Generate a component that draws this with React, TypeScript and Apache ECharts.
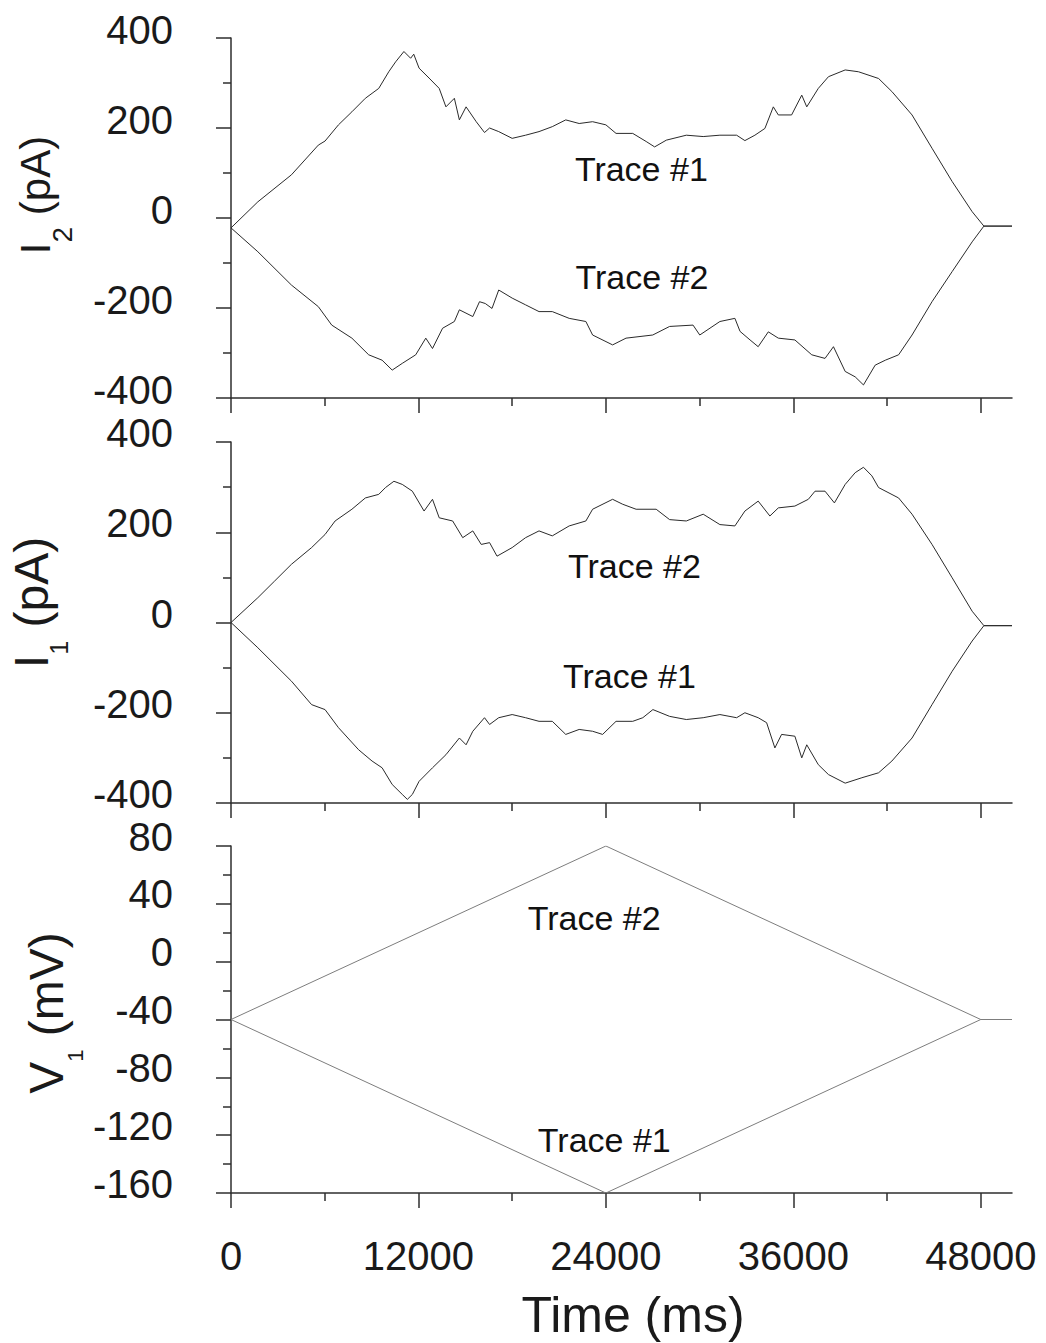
import React, { useEffect, useRef } from "react";
import * as echarts from "echarts";

// ---------- axis data ----------
const xMin = 0;
const xMax = 50000;
const xMajorTicks = [0, 12000, 24000, 36000, 48000];
const xMinorTicks = [6000, 18000, 30000, 42000];

// ---------- I2 panel (top) ----------
const i2Trace1Time = [0, 1720, 3870, 5590, 6020, 6880, 7740, 8600, 9460, 10100, 10540, 11070, 11500, 11700, 12040, 12680, 13330, 13760, 14300, 14620, 15050, 15700, 16230, 16555, 17140, 18000, 18860, 19720, 20570, 21430, 22290, 23150, 24000, 24650, 25720, 26580, 27120, 27870, 29150, 30230, 31300, 32370, 32900, 33540, 34180, 34720, 35040, 35890, 36540, 36860, 37600, 38250, 39320, 40170, 41460, 42310, 43600, 44880, 46170, 47450, 48200, 50000];
const i2Trace1Value = [-22, 36, 96, 162, 171, 207, 236, 266, 288, 325, 347, 370, 355, 364, 333, 311, 288, 247, 266, 218, 247, 214, 190, 200, 192, 177, 184, 192, 203, 218, 210, 214, 207, 188, 188, 170, 158, 173, 184, 181, 184, 184, 172, 184, 199, 247, 229, 229, 273, 247, 288, 314, 329, 325, 310, 281, 229, 155, 81, 14, -18, -18];

const i2Trace2Time = [0, 1720, 3870, 5590, 6450, 7740, 8815, 9675, 10320, 10965, 11825, 12470, 12900, 13545, 14300, 14620, 15480, 15910, 16280, 16710, 17140, 18000, 18860, 19720, 20570, 21650, 22720, 23150, 24430, 25290, 27000, 28080, 29580, 30010, 31300, 32260, 32590, 33230, 33750, 34400, 35040, 36100, 37180, 38030, 38570, 39320, 39960, 40490, 41240, 41890, 42740, 43600, 44880, 46170, 47450, 48200, 50000];
const i2Trace2Value = [-22, -75, -149, -197, -238, -267, -304, -316, -338, -323, -304, -267, -290, -245, -230, -204, -219, -186, -190, -201, -160, -178, -193, -208, -208, -223, -230, -260, -282, -267, -260, -241, -238, -260, -230, -223, -252, -271, -286, -253, -267, -271, -304, -312, -286, -341, -353, -371, -327, -316, -304, -260, -186, -119, -53, -18, -18];

// ---------- I1 panel (middle) ----------
const i1Trace2Time = [0, 1720, 2795, 3870, 5160, 6020, 6665, 7740, 8600, 9460, 9890, 10430, 10965, 11610, 12360, 12900, 13330, 14190, 14835, 15480, 16020, 16555, 17030, 18000, 18860, 19720, 20570, 21650, 22720, 23150, 24430, 25080, 25935, 27220, 28080, 29150, 30230, 31300, 32260, 32900, 33750, 34500, 35040, 36100, 36960, 37390, 38030, 38630, 39320, 39960, 40490, 41030, 41460, 42740, 43600, 44880, 46170, 47450, 48200, 50000];
const i1Trace2Value = [0, 55, 92, 129, 166, 195, 225, 251, 276, 284, 299, 313, 306, 291, 247, 273, 232, 225, 188, 203, 173, 177, 147, 166, 188, 203, 192, 214, 225, 251, 273, 262, 251, 251, 228, 225, 240, 217, 214, 247, 269, 236, 254, 258, 273, 291, 291, 265, 306, 332, 344, 325, 299, 276, 240, 173, 99, 25, -7, -7];

const i1Trace1Time = [0, 1720, 3870, 5160, 6020, 6880, 8170, 9030, 9675, 10320, 10965, 11290, 11610, 12040, 12900, 13760, 14620, 15050, 15480, 16230, 16555, 17140, 18000, 18860, 19720, 20570, 21430, 22290, 23150, 23790, 24650, 25720, 26365, 27010, 28080, 29150, 30230, 31300, 32370, 32900, 33750, 34290, 34820, 35250, 36100, 36540, 36860, 37600, 38250, 39320, 40390, 41460, 42310, 43600, 44880, 46170, 47450, 48200, 50000];
const i1Trace1Value = [0, -56, -130, -182, -193, -233, -282, -307, -322, -359, -381, -392, -381, -352, -322, -293, -256, -271, -241, -211, -226, -211, -204, -211, -219, -219, -248, -237, -241, -248, -219, -219, -211, -193, -208, -215, -211, -204, -211, -200, -211, -222, -278, -248, -252, -300, -271, -315, -337, -356, -344, -333, -307, -256, -182, -108, -41, -7, -7];

// ---------- V1 panel (bottom) ----------
const v1Time = [0, 24000, 48000, 50000];
const v1Trace2Value = [-40, 80, -40, -40];
const v1Trace1Value = [-40, -160, -40, -40];

// ---------- annotations ----------
const i2LabelText = ["Trace #1", "Trace #2"];
const i2LabelTime = [26270, 26310];
const i2LabelValue = [109, -130];
const i1LabelText = ["Trace #2", "Trace #1"];
const i1LabelTime = [25830, 25510];
const i1LabelValue = [125, -119];
const v1LabelText = ["Trace #2", "Trace #1"];
const v1LabelTime = [23250, 23900];
const v1LabelValue = [30, -123];

const FONT = "'Liberation Sans', Arial, Helvetica, sans-serif";
const TEXT = "#1a1a1a";
const AXIS = "#2e2e2e";

const pairs = (t: number[], v: number[]) => t.map((x, i) => [x, v[i]]);
const labelPoints = (txt: string[], t: number[], v: number[]) =>
  txt.map((name, i) => ({ name, value: [t[i], v[i]] }));

export default function App() {
  const ref = useRef<HTMLDivElement>(null);

  useEffect(() => {
    document.body.style.margin = "0";
    if (!ref.current) return;
    const chart = echarts.init(ref.current, undefined, { renderer: "svg" });

    const grids = [
      { left: 231, top: 38, width: 781, height: 360 },
      { left: 231, top: 442, width: 781, height: 361 },
      { left: 231, top: 846, width: 781, height: 347 },
    ].map((g) => ({ ...g, containLabel: false, outerBoundsMode: "none" }));

    const xAxes: any[] = [];
    [0, 1, 2].forEach((g) => {
      xAxes.push({
        type: "value",
        gridIndex: g,
        position: "bottom",
        offset: 0,
        min: xMin,
        max: xMax,
        interval: 12000,
        axisLine: { show: true, onZero: false, lineStyle: { color: AXIS, width: 1.5 } },
        axisTick: { show: true, inside: false, length: 15, customValues: xMajorTicks, lineStyle: { color: AXIS, width: 1.5 } },
        axisLabel: {
          show: g === 2,
          customValues: xMajorTicks,
          formatter: (v: number) => String(v),
          margin: 43,
          fontSize: 40,
          fontFamily: FONT,
          color: TEXT,
        },
        splitLine: { show: false },
        minorTick: { show: false },
        name: g === 2 ? "Time (ms)" : "",
        nameLocation: "middle",
        nameGap: 97,
        nameMoveOverlap: false,
        nameTextStyle: { fontSize: 50, fontFamily: FONT, color: TEXT, padding: [0, 0, 0, 23] },
      });
      xAxes.push({
        type: "value",
        gridIndex: g,
        position: "bottom",
        offset: 0,
        min: xMin,
        max: xMax,
        interval: 12000,
        axisLine: { show: false, onZero: false },
        axisTick: { show: true, inside: false, length: 8, customValues: xMinorTicks, lineStyle: { color: AXIS, width: 1.5 } },
        axisLabel: { show: false },
        splitLine: { show: false },
      });
    });

    const yBase = (g: number, min: number, max: number, interval: number, name: string, nameGap: number, shift: number, main: number, mainLH: number, sub: number, subPad: number, labelLH: number) => ({
      type: "value",
      gridIndex: g,
      position: "left",
      min,
      max,
      interval,
      axisLine: { show: true, onZero: false, lineStyle: { color: AXIS, width: 1.5 } },
      axisTick: { show: true, inside: false, length: 15, lineStyle: { color: AXIS, width: 1.5 } },
      minorTick: { show: true, splitNumber: 2, length: 8, lineStyle: { color: AXIS, width: 1.5 } },
      splitLine: { show: false },
      axisLabel: {
        margin: 58,
        fontSize: 40,
        fontFamily: FONT,
        color: TEXT,
        verticalAlign: "bottom",
        lineHeight: labelLH,
      },
      name,
      nameLocation: "middle",
      nameGap,
      nameMoveOverlap: false,
      nameTextStyle: {
        color: TEXT,
        fontFamily: FONT,
        fontSize: main,
        padding: [0, 0, 0, shift],
        rich: {
          m: { fontSize: main, lineHeight: mainLH, verticalAlign: "top", fontFamily: FONT, color: TEXT },
          s: { fontSize: sub, padding: [subPad, 0, 0, 0], verticalAlign: "top", fontFamily: FONT, color: TEXT },
        },
      },
    });

    const yAxes = [
      yBase(0, -400, 400, 200, "{m|I}{s|2}{m| (pA)}", 155, 46, 42, 46, 28, 34, 16),
      yBase(1, -400, 400, 200, "{m|I}{s|1}{m| (pA)}", 160, 40, 48, 52, 25, 39, 18),
      yBase(2, -160, 80, 40, "{m|V}{s|1}{m| (mV)}", 145, 13, 48, 52, 22, 42, 19),
    ];

    const traceLine = (data: number[][], xi: number, yi: number, color: string, width: number) => ({
      type: "line",
      xAxisIndex: xi,
      yAxisIndex: yi,
      data,
      showSymbol: false,
      symbol: "none",
      silent: true,
      lineStyle: { color, width },
      z: 3,
    });

    const labelSeries = (data: any[], xi: number, yi: number) => ({
      type: "scatter",
      xAxisIndex: xi,
      yAxisIndex: yi,
      data,
      symbolSize: 1,
      silent: true,
      itemStyle: { color: "rgba(0,0,0,0)", opacity: 1 },
      label: {
        show: true,
        position: "inside",
        formatter: (p: any) => p.name,
        fontSize: 34,
        fontFamily: FONT,
        color: "#111111",
        opacity: 1,
        textBorderWidth: 0,
        textBorderColor: "transparent",
      },
      z: 5,
    });

    const CUR = "#2a2a2a";
    const VOLT = "#7d7d7d";

    chart.setOption({
      animation: false,
      backgroundColor: "#ffffff",
      grid: grids,
      xAxis: xAxes,
      yAxis: yAxes,
      series: [
        traceLine(pairs(i2Trace1Time, i2Trace1Value), 0, 0, CUR, 1),
        traceLine(pairs(i2Trace2Time, i2Trace2Value), 0, 0, CUR, 1),
        traceLine(pairs(i1Trace2Time, i1Trace2Value), 2, 1, CUR, 1),
        traceLine(pairs(i1Trace1Time, i1Trace1Value), 2, 1, CUR, 1),
        traceLine(pairs(v1Time, v1Trace2Value), 4, 2, VOLT, 1),
        traceLine(pairs(v1Time, v1Trace1Value), 4, 2, VOLT, 1),
        labelSeries(labelPoints(i2LabelText, i2LabelTime, i2LabelValue), 0, 0),
        labelSeries(labelPoints(i1LabelText, i1LabelTime, i1LabelValue), 2, 1),
        labelSeries(labelPoints(v1LabelText, v1LabelTime, v1LabelValue), 4, 2),
      ],
    });

    return () => chart.dispose();
  }, []);

  return <div ref={ref} style={{ width: 1046, height: 1343 }} />;
}
